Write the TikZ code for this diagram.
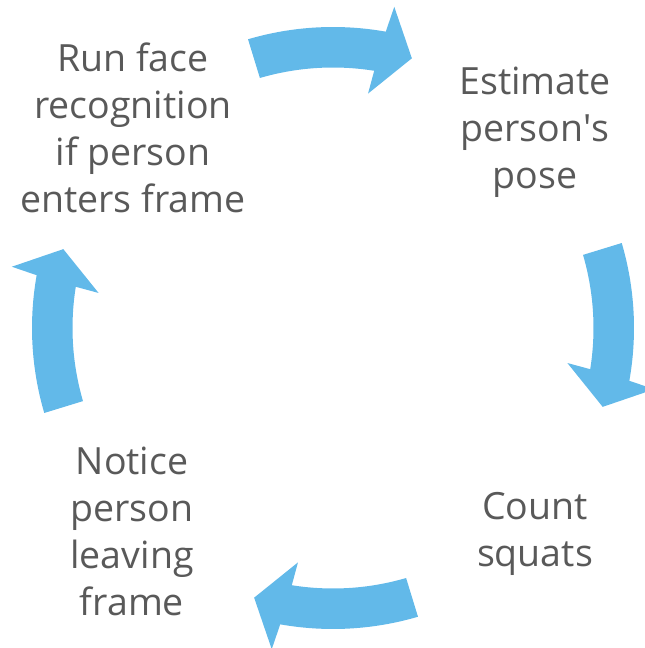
\documentclass[tikz,border=0pt]{standalone}
\usepackage{fontspec}
\setmainfont{Open Sans}
\definecolor{arrowblue}{RGB}{98,185,233}
\definecolor{textgrey}{RGB}{89,89,89}
\begin{document}
\begin{tikzpicture}[x=1pt,y=1pt,
  label/.style={align=center,inner sep=0pt,text=textgrey,
    font=\fontsize{37.5}{47}\selectfont},
  cyclearrow/.style={fill=arrowblue}]
\useasboundingbox (0,0) rectangle (645,648);
\clip (0,0) rectangle (645,648);
\coordinate (C) at (333,320);
\foreach \r in {0,-90,-180,-270}{
  \begin{scope}[shift={(C)},rotate=\r]
    \fill[cyclearrow] (106.4:301) arc[start angle=106.4,end angle=79.9,radius=301]
      -- (79.2:327) -- (73.7:281) -- (81.5:237) -- (80.9:260.5)
      arc[start angle=80.9,end angle=106.3,radius=260.5] -- cycle;
  \end{scope}
}
\node[label] (face) at (133,520) {Run face\\recognition\\if person\\enters frame};
\node[label] (pose) at (535,516) {Estimate\\person\textquotesingle s\\pose};
\node[label] (count) at (535,114) {Count\\squats};
\node[label] (leave) at (132,116.5) {Notice\\person\\leaving\\frame};
\end{tikzpicture}
\end{document}
